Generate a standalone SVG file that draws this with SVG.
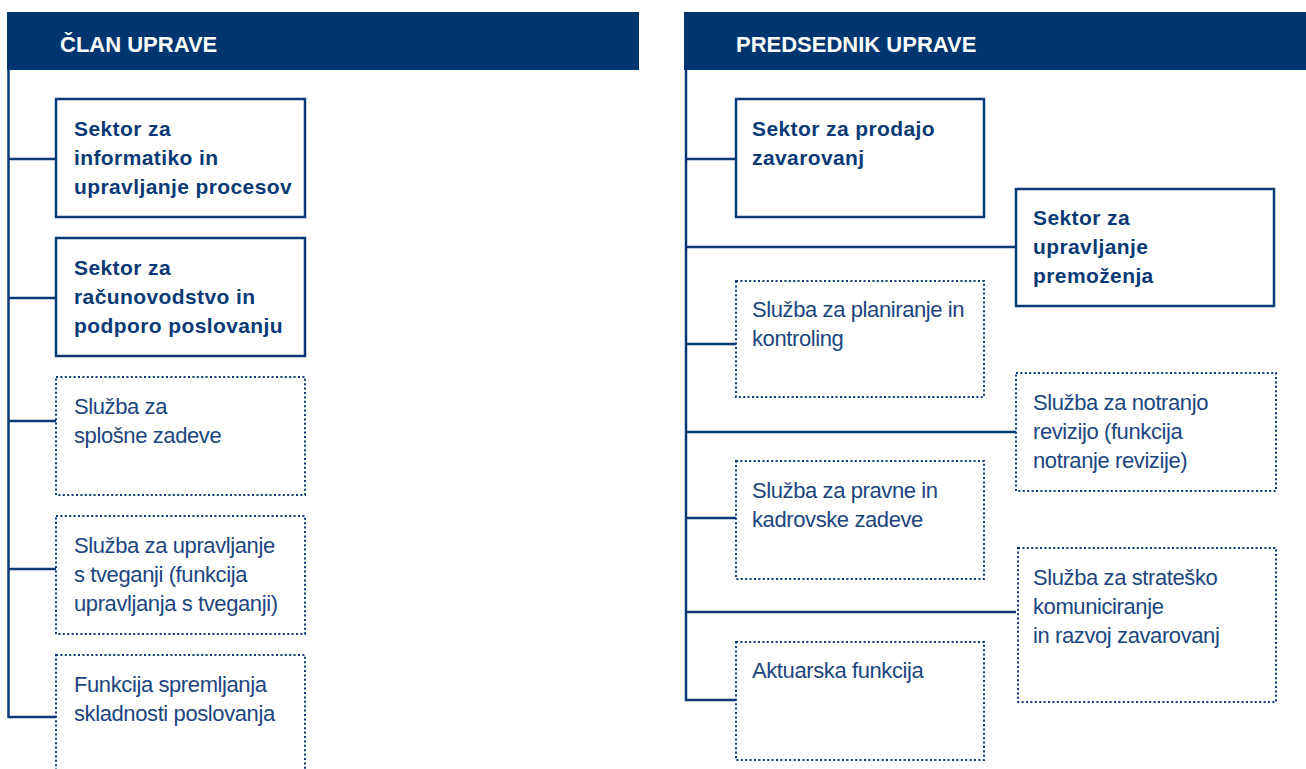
<svg xmlns="http://www.w3.org/2000/svg" width="1306" height="769" viewBox="0 0 1306 769">
<style>
.hdr{fill:#00366f}
.ht{font-family:"Liberation Sans",Arial,sans-serif;font-weight:bold;font-size:22px;fill:#fff}
.solid{fill:#fff;stroke:#0a3a75;stroke-width:2.5}
.dot{fill:#fff;stroke:#0a3a75;stroke-width:2;stroke-dasharray:2 2.4}
.bt{font-family:"Liberation Sans",Arial,sans-serif;font-weight:bold;font-size:21px;letter-spacing:0.4px;fill:#0a3a75}
.rt{font-family:"Liberation Sans",Arial,sans-serif;font-size:22px;letter-spacing:-0.4px;fill:#1c4580}
.ln{fill:none;stroke:#0a3a75;stroke-width:2.5}
</style>
<rect width="1306" height="769" fill="#fff"/>
<g id="connectors">
<path class="ln" d="M8.5 70 V717 H56"/>
<path class="ln" d="M8.5 159 H56 M8.5 298 H56 M8.5 421 H56 M8.5 569 H56"/>
<path class="ln" d="M686 70 V700 H736"/>
<path class="ln" d="M686 159 H736 M686 247 H1016 M686 344 H736 M686 432 H1016 M686 518 H736 M686 612 H1016"/>
</g>
<g id="hdr-clan"><rect class="hdr" x="7" y="12" width="632" height="58"/><text class="ht" x="60" y="52">ČLAN UPRAVE</text></g>
<g id="hdr-predsednik"><rect class="hdr" x="684" y="12" width="622" height="58"/><text class="ht" x="736" y="52">PREDSEDNIK UPRAVE</text></g>
<g id="n1"><rect class="solid" x="56" y="99" width="249" height="118"/><text class="bt" x="74" y="136">Sektor za</text><text class="bt" x="74" y="165">informatiko in</text><text class="bt" x="74" y="194">upravljanje procesov</text></g>
<g id="n2"><rect class="solid" x="56" y="238" width="249" height="118"/><text class="bt" x="74" y="275">Sektor za</text><text class="bt" x="74" y="304">računovodstvo in</text><text class="bt" x="74" y="333">podporo poslovanju</text></g>
<g id="n3"><rect class="dot" x="56" y="377" width="249" height="118"/><text class="rt" x="74" y="414">Služba za</text><text class="rt" x="74" y="443">splošne zadeve</text></g>
<g id="n4"><rect class="dot" x="56" y="516" width="249" height="118"/><text class="rt" x="74" y="553">Služba za upravljanje</text><text class="rt" x="74" y="582">s tveganji (funkcija</text><text class="rt" x="74" y="611">upravljanja s tveganji)</text></g>
<g id="n5"><rect class="dot" x="56" y="655" width="249" height="130"/><text class="rt" x="74" y="692">Funkcija spremljanja</text><text class="rt" x="74" y="721">skladnosti poslovanja</text></g>
<g id="r1"><rect class="solid" x="736" y="99" width="248" height="118"/><text class="bt" x="752" y="136">Sektor za prodajo</text><text class="bt" x="752" y="165">zavarovanj</text></g>
<g id="r2"><rect class="solid" x="1016" y="189" width="258" height="117"/><text class="bt" x="1033" y="225">Sektor za</text><text class="bt" x="1033" y="254">upravljanje</text><text class="bt" x="1033" y="283">premoženja</text></g>
<g id="r3"><rect class="dot" x="736" y="281" width="248" height="116"/><text class="rt" x="752" y="317">Služba za planiranje in</text><text class="rt" x="752" y="346">kontroling</text></g>
<g id="r4"><rect class="dot" x="1016" y="373" width="260" height="118"/><text class="rt" x="1033" y="410">Služba za notranjo</text><text class="rt" x="1033" y="439">revizijo (funkcija</text><text class="rt" x="1033" y="468">notranje revizije)</text></g>
<g id="r5"><rect class="dot" x="736" y="461" width="248" height="118"/><text class="rt" x="752" y="498">Služba za pravne in</text><text class="rt" x="752" y="527">kadrovske zadeve</text></g>
<g id="r6"><rect class="dot" x="1018" y="548" width="258" height="154"/><text class="rt" x="1033" y="585">Služba za strateško</text><text class="rt" x="1033" y="614">komuniciranje</text><text class="rt" x="1033" y="643">in razvoj zavarovanj</text></g>
<g id="r7"><rect class="dot" x="736" y="642" width="248" height="118"/><text class="rt" x="752" y="678">Aktuarska funkcija</text></g>
</svg>
